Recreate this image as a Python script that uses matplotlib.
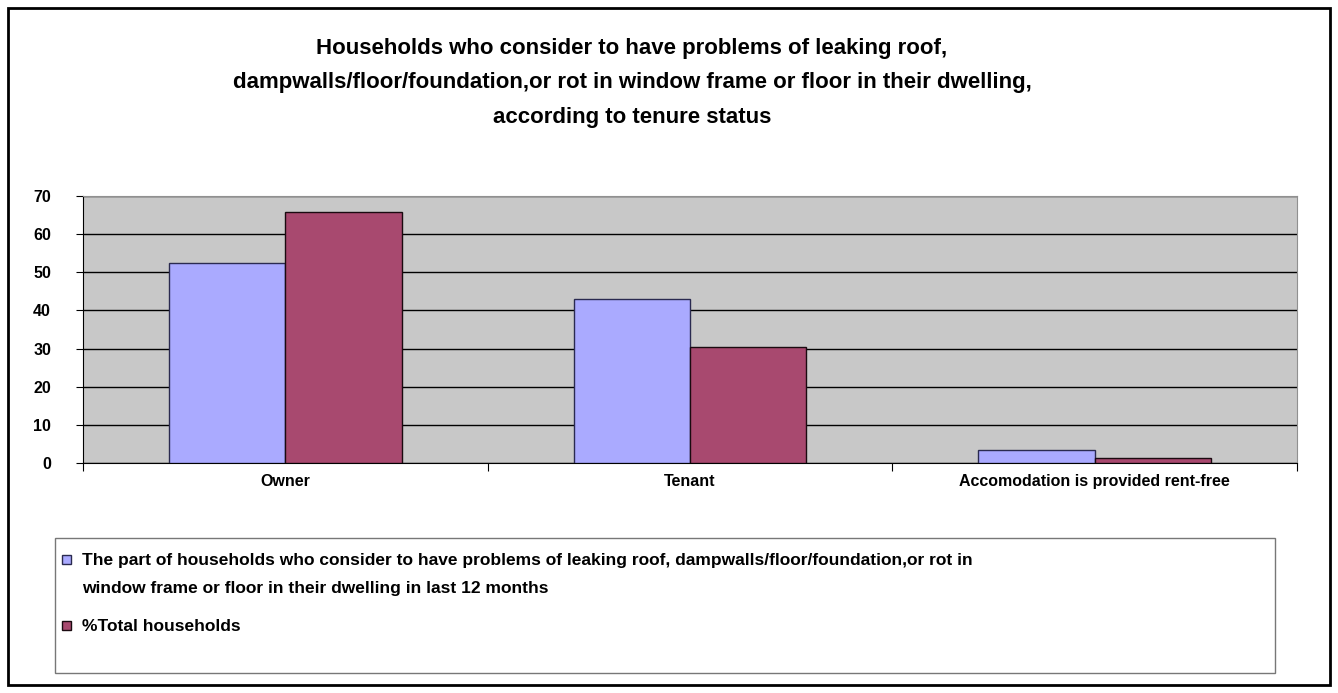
import matplotlib.pyplot as plt
from matplotlib.patches import Rectangle

# Data
categories = ["Owner", "Tenant", "Accomodation is provided rent-free"]
part_with_problems = [52.4, 43.1, 3.5]
total_households = [65.9, 30.5, 1.2]
series_labels = [
    "The part of households who consider to have problems of leaking roof, "
    "dampwalls/floor/foundation,or rot in\nwindow frame or floor in their dwelling in last 12 months",
    "%Total households",
]
yticks = [0, 10, 20, 30, 40, 50, 60, 70]
title = ("Households who consider to have problems of leaking roof,\n"
         "dampwalls/floor/foundation,or rot in window frame or floor in their dwelling,\n"
         "according to tenure status")

plt.rcParams["font.family"] = ["Liberation Sans", "DejaVu Sans"]

W, H = 1338, 693
fig = plt.figure(figsize=(W / 100, H / 100), dpi=100)

# outer chart border
fig.patches.append(Rectangle((8 / W, 8 / H), 1322 / W, 677 / H,
                             transform=fig.transFigure, fill=False,
                             edgecolor="black", linewidth=2))

ax = fig.add_axes([83 / W, (H - 463) / H, 1214 / W, 267 / H])
ax.set_facecolor("#C8C8C8")

x = range(len(categories))
bw = 116 / 404
b1 = ax.bar([i - bw / 2 for i in x], part_with_problems, width=bw,
            color="#AAAAFF", edgecolor="#2a2a50", linewidth=1,
            label=series_labels[0], zorder=3)
b2 = ax.bar([i + bw / 2 for i in x], total_households, width=bw,
            color="#A8496F", edgecolor="#1a0a10", linewidth=1,
            label=series_labels[1], zorder=3)

ax.set_xlim(-0.5, len(categories) - 0.5)
ax.set_ylim(0, 70)
ax.set_yticks(yticks)
ax.set_yticklabels([str(v) for v in yticks], fontsize=11.5, fontweight="bold")
ax.yaxis.grid(True, color="black", linewidth=1, zorder=1)
ax.set_axisbelow(True)

# category labels between tick marks
ax.set_xticks([0.5 + i for i in range(-1, len(categories))])
ax.set_xticklabels([])
ax.tick_params(axis="x", length=6, color="black")
ax.tick_params(axis="y", length=5, color="black", pad=18)
for i, c in enumerate(categories):
    ax.text(i, -3.0, c, ha="center", va="top", fontsize=11.5,
            fontweight="bold", transform=ax.transData)

for s in ["top", "right"]:
    ax.spines[s].set_color("#909090")
ax.spines["left"].set_color("black")
ax.spines["bottom"].set_color("black")

fig.text(632 / W, 1 - 38 / H, title, ha="center", va="top", fontsize=16,
         fontweight="bold", linespacing=1.84)

# legend box, drawn by hand so the first marker sits on the first text line
fig.patches.append(Rectangle((55 / W, (H - 673) / H), 1220 / W, 135 / H,
                             transform=fig.transFigure, fill=False,
                             edgecolor="#777777", linewidth=1))
legend_rows = [559, 625]
for bars, label, yrow in zip([b1, b2], series_labels, legend_rows):
    p = bars.patches[0]
    fig.patches.append(Rectangle((62 / W, (H - yrow - 4.5) / H), 9 / W, 9 / H,
                                 transform=fig.transFigure,
                                 facecolor=p.get_facecolor(),
                                 edgecolor=p.get_edgecolor(), linewidth=1))
    fig.text(82 / W, 1 - (yrow - 6) / H, label, ha="left", va="top",
             fontsize=12.5, fontweight="bold", linespacing=2.05)

fig.savefig("out.png", dpi=100)
